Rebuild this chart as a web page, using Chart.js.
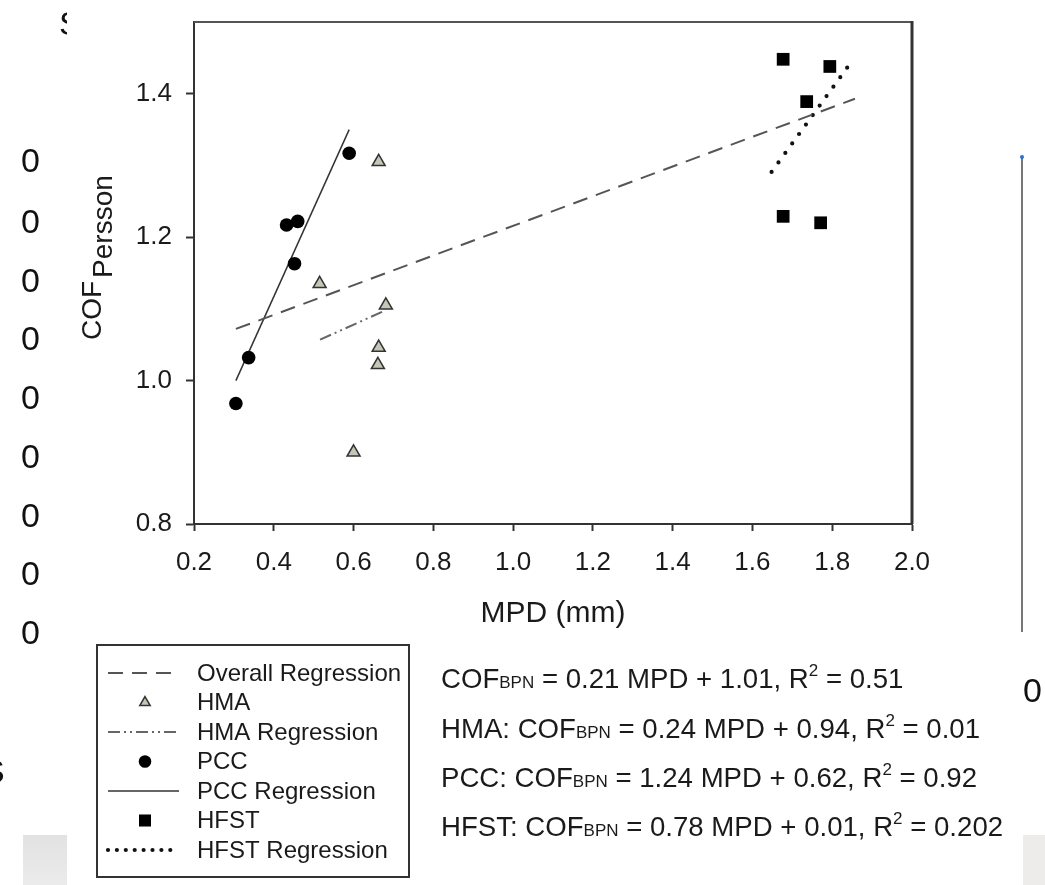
<!DOCTYPE html>
<html>
<head>
<meta charset="utf-8">
<script src="https://cdn.jsdelivr.net/npm/chart.js@4.4.0/dist/chart.umd.min.js"></script>
<style>
  html, body { margin:0; padding:0; background:#fff; }
  #wrap { position:relative; width:1045px; height:885px; overflow:hidden; font-family:"Liberation Sans", Arial, sans-serif; color:#1a1a1a; }
  #chart { position:absolute; left:0; top:0; }
  .eq { position:absolute; left:441px; font-size:27.6px; white-space:nowrap; line-height:1; }
  .eq .sub { font-size:17px; }
  .eq .sup { font-size:17px; position:relative; top:-12px; }
  .junk { position:absolute; font-size:34px; line-height:1; color:#111; }
</style>
</head>
<body>
<div id="wrap">
  <canvas id="chart" width="1045" height="885"></canvas>

  <!-- equations under the plot -->
  <div class="eq" style="top:665px">COF<span class="sub">BPN</span> = 0.21 MPD + 1.01, R<span class="sup">2</span> = 0.51</div>
  <div class="eq" style="top:715px">HMA: COF<span class="sub">BPN</span> = 0.24 MPD + 0.94, R<span class="sup">2</span> = 0.01</div>
  <div class="eq" style="top:764px">PCC: COF<span class="sub">BPN</span> = 1.24 MPD + 0.62, R<span class="sup">2</span> = 0.92</div>
  <div class="eq" style="top:813px">HFST: COF<span class="sub">BPN</span> = 0.78 MPD + 0.01, R<span class="sup">2</span> = 0.202</div>

  <!-- bits of the slide behind the figure -->
  <div class="junk" style="left:21px;top:143px">0</div>
  <div class="junk" style="left:21px;top:204px">0</div>
  <div class="junk" style="left:21px;top:263px">0</div>
  <div class="junk" style="left:21px;top:321px">0</div>
  <div class="junk" style="left:21px;top:380px">0</div>
  <div class="junk" style="left:21px;top:439px">0</div>
  <div class="junk" style="left:21px;top:498px">0</div>
  <div class="junk" style="left:21px;top:556px">0</div>
  <div class="junk" style="left:21px;top:615px">0</div>
  <div class="junk" style="left:1023px;top:673px">0</div>
  <div style="position:absolute;left:55px;top:6px;width:12px;height:36px;overflow:hidden"><span class="junk" style="left:4px;top:0">S</span></div>
  <div style="position:absolute;left:0;top:754px;width:5px;height:38px;overflow:hidden"><span class="junk" style="left:-18px;top:0">S</span></div>
  <div style="position:absolute;left:1021px;top:157px;width:2px;height:475px;background:#777"></div>
  <div style="position:absolute;left:1020px;top:155px;width:4px;height:4px;background:#2a6fd6;border-radius:2px"></div>
  <div style="position:absolute;left:23px;top:835px;width:44px;height:50px;background:linear-gradient(#e2e2e2,#ebebeb)"></div>
  <div style="position:absolute;left:1023px;top:835px;width:22px;height:50px;background:#eeecea"></div>
</div>

<script>
// tick labels
const xTicks = [0.2, 0.4, 0.6, 0.8, 1.0, 1.2, 1.4, 1.6, 1.8, 2.0];
const yTicks = [0.8, 1.0, 1.2, 1.4];

// measured points (MPD, COF)
const hmaMPD = [0.515, 0.600, 0.661, 0.663, 0.663, 0.681];
const hmaCOF = [1.135, 0.900, 1.022, 1.046, 1.305, 1.105];
const pccMPD = [0.305, 0.337, 0.432, 0.452, 0.460, 0.589];
const pccCOF = [0.968, 1.032, 1.217, 1.163, 1.222, 1.317];
const hfstMPD = [1.677, 1.677, 1.736, 1.771, 1.794];
const hfstCOF = [1.448, 1.229, 1.389, 1.220, 1.438];

// regression line end points as drawn
const overallLineMPD = [0.305, 1.857];
const overallLineCOF = [1.072, 1.393];
const hmaLineMPD = [0.516, 0.680];
const hmaLineCOF = [1.057, 1.098];
const pccLineMPD = [0.305, 0.589];
const pccLineCOF = [1.000, 1.350];
const hfstLineMPD = [1.648, 1.854];
const hfstLineCOF = [1.291, 1.449];

const FONT = '"Liberation Sans", Arial, sans-serif';

function pts(xs, ys){ return xs.map((x,i)=>({x:x, y:ys[i]})); }

function lineSet(label, xs, ys, color, width, dash, extra){
  return Object.assign({
    label, data: pts(xs, ys), showLine:true, fill:false,
    borderColor:color, borderWidth:width, borderDash:dash,
    pointRadius:0, pointHoverRadius:0, tension:0
  }, extra || {});
}

function pointSet(label, xs, ys, style, radius, fillCol, lineCol, bw){
  return {
    label, data: pts(xs, ys), showLine:false, pointStyle:style,
    pointRadius:radius, pointHoverRadius:radius,
    backgroundColor:fillCol, borderColor:lineCol, borderWidth:bw
  };
}

const datasets = [
  lineSet('Overall Regression', overallLineMPD, overallLineCOF, '#555', 2, [15, 9]),
  pointSet('HMA', hmaMPD, hmaCOF, 'triangle', 7.5, '#c6c6b6', '#333', 1.5),
  lineSet('HMA Regression', hmaLineMPD, hmaLineCOF, '#666', 2, [12, 4, 2, 4, 2, 4]),
  pointSet('PCC', pccMPD, pccCOF, 'circle', 6.8, '#000', '#000', 0),
  lineSet('PCC Regression', pccLineMPD, pccLineCOF, '#333', 1.5, []),
  pointSet('HFST', hfstMPD, hfstCOF, 'rect', 9, '#000', '#000', 0),
  lineSet('HFST Regression', hfstLineMPD, hfstLineCOF, '#111', 4.2, [0, 11.7],
          {borderCapStyle:'round', legendDash:[0, 8.9]})
];

// frame, axis titles and the boxed legend
const decorPlugin = {
  id: 'decor',
  afterDraw(chart){
    const {ctx, chartArea:a} = chart;
    ctx.save();
    // top + right side of the frame
    ctx.strokeStyle = '#555'; ctx.lineWidth = 2;
    ctx.beginPath(); ctx.moveTo(a.left, a.top); ctx.lineTo(a.right, a.top); ctx.stroke();
    ctx.strokeStyle = '#333'; ctx.lineWidth = 3;
    ctx.beginPath(); ctx.moveTo(a.right, a.top - 1); ctx.lineTo(a.right, a.bottom); ctx.stroke();

    // x title
    ctx.fillStyle = '#1a1a1a';
    ctx.font = '30px ' + FONT;
    ctx.textAlign = 'center'; ctx.textBaseline = 'alphabetic';
    ctx.fillText('MPD (mm)', (a.left + a.right) / 2, 622);

    // y title with subscript
    ctx.save();
    ctx.translate(101, 340);
    ctx.rotate(-Math.PI / 2);
    ctx.textAlign = 'left';
    ctx.font = '28px ' + FONT;
    ctx.fillText('COF', 0, 0);
    const w = ctx.measureText('COF').width;
    ctx.fillText('Persson', w + 3, 11);
    ctx.restore();

    // legend box
    ctx.strokeStyle = '#333'; ctx.lineWidth = 2;
    ctx.strokeRect(97, 645, 312, 232);
    chart.data.datasets.forEach((ds, i) => {
      const y = 673 + i * 29.5;
      ctx.save();
      if (ds.showLine) {
        ctx.strokeStyle = ds.borderColor; ctx.lineWidth = ds.borderWidth;
        ctx.setLineDash(ds.legendDash || ds.borderDash || []);
        ctx.lineCap = ds.borderCapStyle || 'butt';
        ctx.beginPath(); ctx.moveTo(108, y); ctx.lineTo(179, y); ctx.stroke();
      } else {
        ctx.fillStyle = ds.backgroundColor; ctx.strokeStyle = ds.borderColor; ctx.lineWidth = ds.borderWidth;
        const r = ds.pointStyle === 'triangle' ? ds.pointRadius - 1.5 : ds.pointRadius - 0.5;
        Chart.helpers.drawPoint(ctx, {pointStyle: ds.pointStyle, radius: r, rotation: 0, borderWidth: ds.borderWidth}, 145, y);
      }
      ctx.restore();
      ctx.fillStyle = '#1a1a1a';
      ctx.font = '24px ' + FONT;
      ctx.textAlign = 'left'; ctx.textBaseline = 'middle';
      ctx.fillText(ds.label, 197, y + 1);
    });
    ctx.restore();
  }
};

new Chart(document.getElementById('chart'), {
  type: 'scatter',
  data: { datasets },
  options: {
    responsive: false,
    devicePixelRatio: 1,
    animation: false,
    events: [],
    layout: { padding: { left: 0, top: 22, right: 133, bottom: 0 } },
    plugins: { legend: { display: false }, tooltip: { enabled: false } },
    scales: {
      x: {
        type: 'linear', min: 0.2, max: 2.0,
        afterFit: s => { s.height = 361; s.paddingLeft = 0; s.paddingRight = 0; },
        afterBuildTicks: s => { s.ticks = xTicks.map(v => ({value: v})); },
        ticks: { font: { size: 26, family: FONT }, color: '#1a1a1a', padding: 16,
                 callback: v => v.toFixed(1) },
        grid: { drawOnChartArea: false, drawTicks: true, tickLength: 7, tickWidth: 2, tickColor: '#333' },
        border: { display: true, color: '#333', width: 2 }
      },
      y: {
        type: 'linear', min: 0.8, max: 1.5,
        afterFit: s => { s.width = 194; s.paddingTop = 0; s.paddingBottom = 0; },
        afterBuildTicks: s => { s.ticks = yTicks.map(v => ({value: v})); },
        ticks: { font: { size: 26, family: FONT }, color: '#1a1a1a', padding: 14,
                 callback: v => v.toFixed(1) },
        grid: { drawOnChartArea: false, drawTicks: true, tickLength: 8, tickWidth: 2, tickColor: '#333' },
        border: { display: true, color: '#333', width: 2 }
      }
    }
  },
  plugins: [decorPlugin]
});
</script>
</body>
</html>
